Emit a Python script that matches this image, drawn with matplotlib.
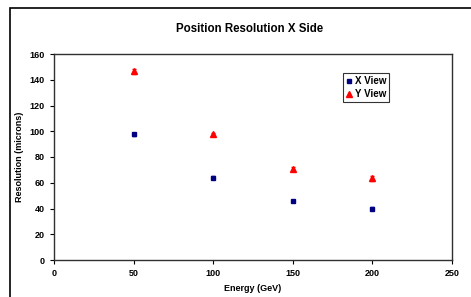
import matplotlib.pyplot as plt
from matplotlib.patches import Rectangle
from matplotlib.lines import Line2D

# data
energy = [50, 100, 150, 200]
x_view = [97.5, 64, 46, 40]
x_err = [1.5, 1.0, 0.8, 0.8]
y_view = [146.5, 97.5, 71, 63.5]
y_err = [2.0, 1.5, 1.0, 2.0]

plt.rcParams['font.family'] = ['Liberation Sans', 'DejaVu Sans']
plt.rcParams['font.weight'] = 'bold'

W, H = 471, 297
fig = plt.figure(figsize=(W / 100, H / 100), dpi=100)

# outer chart frame (cut off on right and bottom)
fig.patches.append(Rectangle((10 / W, -0.1), 1.2, 1 - 8 / H + 0.1,
                             transform=fig.transFigure, fill=False,
                             edgecolor='black', linewidth=1.2))

ax = fig.add_axes([54 / W, 1 - 260 / H, (452 - 54) / W, (260 - 54) / H])

ax.errorbar(energy, x_view, yerr=x_err, fmt='s', color='#000080', ms=3.2,
            elinewidth=0.8, capsize=1.5)
ax.errorbar(energy, y_view, yerr=y_err, fmt='^', color='#ff0000', ms=4,
            elinewidth=0.8, capsize=1.5)

ax.set_xlim(0, 250)
ax.set_ylim(0, 160)
ax.set_xticks(range(0, 251, 50))
ax.set_yticks(range(0, 161, 20))
ax.tick_params(labelsize=6.5, length=3, width=0.8, direction='out')
for lab in ax.get_xticklabels() + ax.get_yticklabels():
    lab.set_fontweight('bold')
for s in ax.spines.values():
    s.set_linewidth(1.0)
    s.set_color('#303030')

ax.set_xlabel('Energy (GeV)', fontsize=6.5, fontweight='bold', labelpad=4)
ax.set_ylabel('Resolution (microns)', fontsize=6.5, fontweight='bold', labelpad=4)

fig.text(250 / W, 1 - 29 / H, 'Position Resolution X Side', ha='center', va='center',
         fontsize=8.3, fontweight='bold')

handles = [Line2D([], [], ls='none', marker='s', color='#000080', ms=3),
           Line2D([], [], ls='none', marker='^', color='#ff0000', ms=3.8)]
leg = ax.legend(handles, ['X View', 'Y View'], loc='upper left',
                bbox_to_anchor=((343 - 54) / (452 - 54), 1 - (73 - 54) / (260 - 54)),
                fontsize=7, frameon=True, fancybox=False, edgecolor='black',
                handlelength=0.6, handletextpad=0.3, borderpad=0.3, labelspacing=0.35,
                borderaxespad=0)
leg.get_frame().set_linewidth(0.8)
for t in leg.get_texts():
    t.set_fontweight('bold')

fig.savefig('out.png', dpi=100)
